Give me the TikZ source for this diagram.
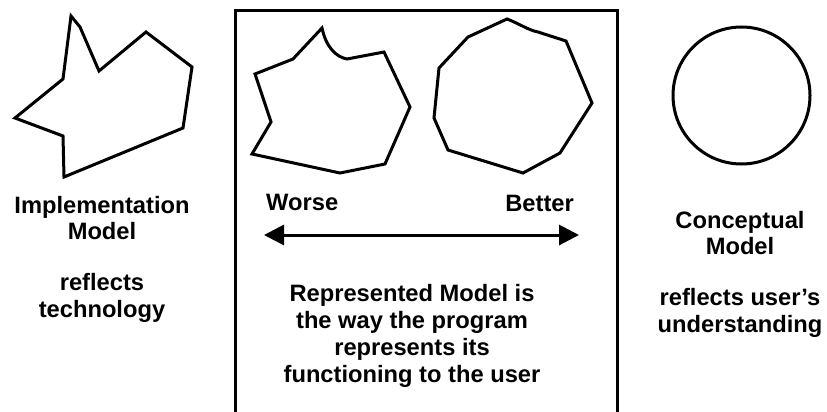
\documentclass[tikz,border=0pt]{standalone}
\usepackage{fontspec}
\setmainfont{Liberation Sans}
\usetikzlibrary{arrows.meta}
\begin{document}
\begin{tikzpicture}[x=1pt,y=-1pt,
  shape line/.style={line width=3pt,line join=miter},
  label text/.style={font=\bfseries\fontsize{23.7}{26.8}\selectfont,align=center,inner sep=0pt}]
\useasboundingbox (0,0) rectangle (827,412);
\begin{scope}
\clip (0,0) rectangle (827,412);
% middle frame
\draw[line width=3pt] (235,430) -- (235,11) -- (617,11) -- (617,430);
\end{scope}
% left polygon
\draw[shape line] (71,16) -- (80,27) -- (99,71) -- (146,32) -- (192,67) -- (183,128)
  -- (64,177) -- (63,136) -- (15,118) -- (63,79) -- cycle;
% middle polygon worse
\draw[shape line] (322,28) .. controls (326,47) and (336,57) .. (347,59) -- (384,52) -- (410,107)
  -- (385,164) -- (340,173) -- (252,154) -- (271,122) -- (255,74) -- (293,59) -- cycle;
% middle polygon better
\draw[shape line] (507,19) .. controls (520,24) and (528,30) .. (538,32) -- (566,41) -- (592,103)
  -- (560,153) -- (523,173) -- (448,150) -- (434,118) -- (439,68) -- (468,37) -- cycle;
% circle
\draw[line width=3pt] (741.5,95.5) circle[radius=68.5];
% texts
\node[label text] (impl) at (102,218) {Implementation\\Model};
\node[label text] (impltech) at (102,298) {reflects\\technology};
\node[label text] (concept) at (740,233) {Conceptual\\Model};
\node[label text] (conceptund) at (740,313) {reflects user’s\\understanding};
\node[label text,anchor=base west] (worse) at (266,210) {Worse};
\node[label text,anchor=base east] (better) at (574,211) {Better};
\node[label text] (repr) at (412,336) {Represented Model is\\the way the program\\represents its\\functioning to the user};
% arrow
\coordinate (lefttip) at (264,235);
\coordinate (righttip) at (579,235);
\draw[line width=3pt,{Triangle[length=20pt,width=20pt]}-{Triangle[length=20pt,width=20pt]}] (lefttip) -- (righttip);
\end{tikzpicture}
\end{document}
